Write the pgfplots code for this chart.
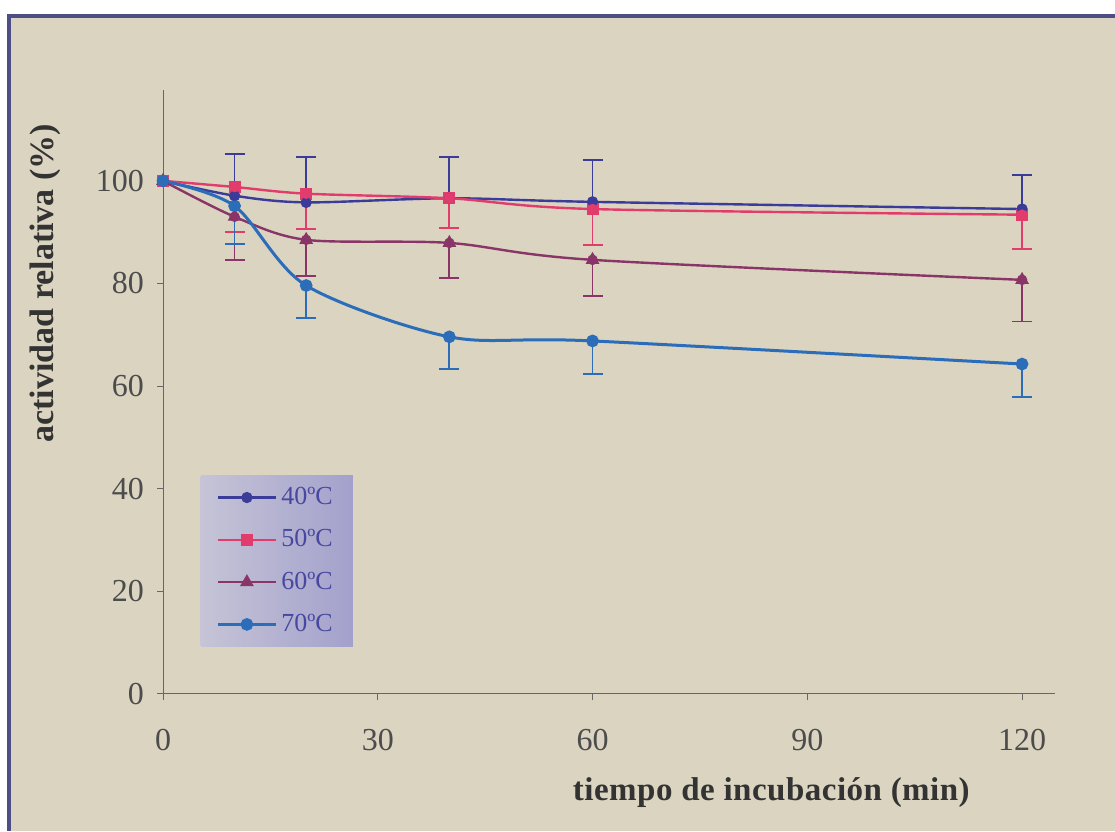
\documentclass[border=0pt]{standalone}
\usepackage{pgfplots}
\pgfplotsset{compat=1.18}
\usepackage{fontspec}
\setmainfont{Liberation Serif}

\definecolor{bg}{HTML}{DAD4C0}
\definecolor{frame}{HTML}{4E4E86}
\definecolor{c40}{HTML}{3B3C9A}
\definecolor{c50}{HTML}{E23C6C}
\definecolor{c60}{HTML}{8A3568}
\definecolor{c70}{HTML}{2C6DBA}
\definecolor{legA}{HTML}{C6C4D6}
\definecolor{legB}{HTML}{A3A1CC}
\definecolor{legtext}{HTML}{4848A0}

\begin{document}
\begin{tikzpicture}
% page and frame (1 px of the reference = 0.5pt)
\path[use as bounding box] (0,0) rectangle (557.5pt,415.5pt);
\fill[bg] (3.5pt,0) rectangle (557.5pt,408.5pt);
\draw[frame, line width=2pt] (4.5pt,0) -- (4.5pt,407.5pt) -- (557.5pt,407.5pt);

\begin{axis}[
    at={(81.5pt,68.5pt)}, anchor=south west,
    scale only axis, width=446pt, height=302pt,
    xmin=0, xmax=124.6, ymin=0, ymax=117.7,
    axis x line*=bottom, axis y line*=left,
    axis line style={-, draw=gray!80!black, line width=0.5pt},
    xtick={0,30,60,90,120}, ytick={0,20,40,60,80,100},
    tick align=outside, major tick length=3pt,
    tick style={draw=gray!80!black, line width=0.5pt},
    /pgf/number format/assume math mode=true,
    tick label style={font=\fontsize{16}{18}\selectfont, text=black!70},
    xticklabel shift=11pt, yticklabel shift=3pt,
    xlabel={tiempo de incubación (min)},
    ylabel={actividad relativa (\%)},
    xlabel style={font=\fontsize{16.5}{18}\selectfont\bfseries\addfontfeatures{LetterSpace=1.5},
                  text=black!80,
                  at={(axis description cs:0.682,0)}, anchor=center, yshift=-49.5pt},
    ylabel style={font=\fontsize{17}{19}\selectfont\bfseries, text=black!80,
                  at={(axis description cs:0,0.680)}, anchor=center, yshift=59pt},
    legend style={at={(0.0415,0.3626)}, anchor=north west, draw=none,
                  left color=legA, right color=legB,
                  font=\fontsize{13}{15}\selectfont, text=legtext,
                  inner xsep=8pt, inner ysep=4pt, row sep=7pt},
    legend cell align=left,
    legend image code/.code={
        \draw[mark repeat=2, mark phase=2] plot coordinates {(0pt,0pt) (14.5pt,0pt) (29pt,0pt)};
    },
    every axis plot/.append style={smooth, line width=1.2pt},
    error bars/error bar style={line width=0.9pt},
    error bars/error mark options={rotate=90, mark size=5pt, line width=0.9pt},
]

% 40 C
\addplot[c40, mark=*, mark size=2.2pt] coordinates {
    (0,100) (10,97.1) (20,95.8) (40,96.6) (60,95.9) (120,94.5)
};
\addlegendentry{40ºC}
% 50 C
\addplot[c50, mark=square*, mark size=2.4pt] coordinates {
    (0,100) (10,98.8) (20,97.5) (40,96.6) (60,94.5) (120,93.4)
};
\addlegendentry{50ºC}
% 60 C
\addplot[c60, mark=triangle*, mark size=2.8pt] coordinates {
    (0,100) (10,93.0) (20,88.5) (40,87.9) (60,84.6) (120,80.7)
};
\addlegendentry{60ºC}
% 70 C
\addplot[c70, mark=*, mark size=2.4pt, line width=1.5pt] coordinates {
    (0,100) (10,95.1) (20,79.6) (40,69.6) (60,68.8) (120,64.3)
};
\addlegendentry{70ºC}

% error bars (40 C upward, the others downward)
\addplot[c40, only marks, mark=none, forget plot,
         error bars/.cd, y dir=plus, y explicit] coordinates {
    (10,97.1) +- (0,8.1) (20,95.8) +- (0,8.9) (40,96.6) +- (0,8.1)
    (60,95.9) +- (0,8.1) (120,94.5) +- (0,6.7)
};
\addplot[c50, only marks, mark=none, forget plot,
         error bars/.cd, y dir=minus, y explicit] coordinates {
    (10,98.8) +- (0,8.7) (20,97.5) +- (0,6.9) (40,96.6) +- (0,5.8)
    (60,94.5) +- (0,7.0) (120,93.4) +- (0,6.7)
};
\addplot[c60, only marks, mark=none, forget plot,
         error bars/.cd, y dir=minus, y explicit] coordinates {
    (10,93.0) +- (0,8.4) (20,88.5) +- (0,7.0) (40,87.9) +- (0,6.9)
    (60,84.6) +- (0,7.0) (120,80.7) +- (0,8.1)
};
\addplot[c70, only marks, mark=none, forget plot,
         error bars/.cd, y dir=minus, y explicit] coordinates {
    (10,95.1) +- (0,7.4) (20,79.6) +- (0,6.4) (40,69.6) +- (0,6.3)
    (60,68.8) +- (0,6.5) (120,64.3) +- (0,6.4)
};
\end{axis}
\end{tikzpicture}
\end{document}
